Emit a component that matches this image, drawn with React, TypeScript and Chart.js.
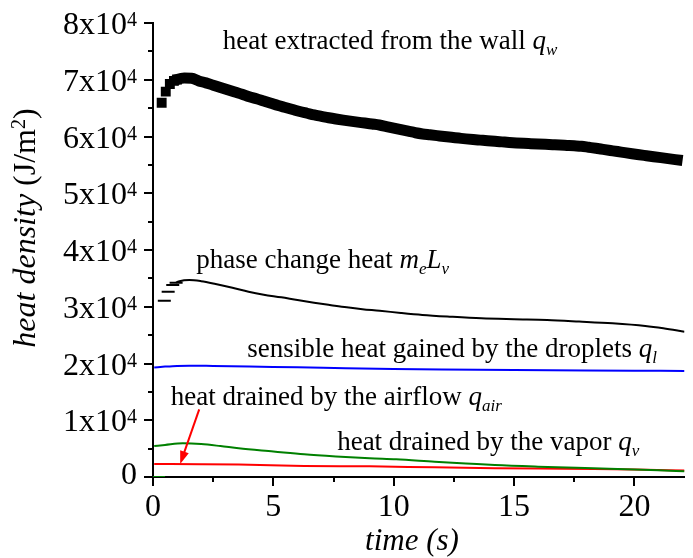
import React, { useEffect, useRef } from 'react';
import { Chart, registerables } from 'chart.js';

Chart.register(...registerables);

const FONT = '"Liberation Serif", "Times New Roman", Times, serif';

// ---- axis ticks ----
const xMajorTicks = [0, 5, 10, 15, 20];
const xMajorLabels = ['0', '5', '10', '15', '20'];
const xMinorTicks = [2.5, 7.5, 12.5, 17.5];
const yMajorTicks = [0, 10000, 20000, 30000, 40000, 50000, 60000, 70000, 80000];
const yMajorMantissa = ['0', '1', '2', '3', '4', '5', '6', '7', '8'];
const yMinorTicks = [5000, 15000, 25000, 35000, 45000, 55000, 65000, 75000];
const X_MAX = 22.08;
const Y_MAX = 80000;

// ---- heat extracted from the wall q_w (squares) ----
const qwTime = [
  0.36, 0.53, 0.7, 0.87, 1.0, 1.3, 1.6, 1.9, 2.2, 2.5, 2.8, 3.1, 3.4, 3.7, 4.0, 4.3, 4.6, 4.9,
  5.2, 5.5, 5.8, 6.1, 6.4, 6.7, 7.0, 7.3, 7.6, 7.9, 8.2, 8.5, 8.8, 9.1, 9.4, 9.7, 10.0, 10.3,
  10.6, 10.9, 11.2, 11.5, 11.8, 12.1, 12.4, 12.7, 13.0, 13.3, 13.6, 13.9, 14.2, 14.5, 14.8,
  15.1, 15.4, 15.7, 16.0, 16.3, 16.6, 16.9, 17.2, 17.5, 17.8, 18.1, 18.4, 18.7, 19.0, 19.3,
  19.6, 19.9, 20.2, 20.5, 20.8, 21.1, 21.4, 21.7, 22.0,
];
const qwValue = [
  65960, 67900, 69250, 69800, 70050, 70300, 70250, 69800, 69450, 69050, 68650, 68250, 67850,
  67450, 67000, 66650, 66250, 65850, 65450, 65100, 64750, 64400, 64100, 63800, 63550, 63300,
  63080, 62880, 62700, 62530, 62370, 62200, 62030, 61760, 61480, 61200, 60930, 60660, 60450,
  60300, 60150, 60000, 59860, 59720, 59580, 59460, 59360, 59260, 59150, 59050, 58950, 58870,
  58800, 58740, 58680, 58620, 58560, 58500, 58430, 58360, 58280, 58100, 57920, 57730, 57540,
  57350, 57150, 56960, 56780, 56610, 56440, 56270, 56100, 55930, 55760,
];

// ---- phase change heat m_e L_v ----
const meLvTime = [
  0.47, 0.63, 0.82, 0.96, 1.1, 1.51, 2.0, 2.6, 3.3, 3.97, 4.6, 5.33, 6.0, 6.69, 7.4, 8.05, 8.7,
  9.42, 10.3, 11.19, 12.4, 13.64, 15.0, 16.37, 17.7, 19.09, 20.45, 21.2, 22.08,
];
const meLvValue = [
  31070, 32650, 33830, 34240, 34500, 34710, 34500, 34010, 33350, 32650, 32130, 31660, 31170,
  30710, 30280, 29900, 29580, 29300, 28900, 28550, 28230, 27960, 27800, 27670, 27400, 27080,
  26610, 26200, 25600,
];

// ---- sensible heat gained by the droplets q_l ----
const qlTime = [0.05, 0.5, 1.0, 1.5, 2.5, 4.0, 6.0, 8.0, 10.0, 12.0, 15.0, 18.0, 20.0, 22.08];
const qlValue = [19300, 19450, 19580, 19620, 19560, 19450, 19330, 19180, 19050, 18950, 18850, 18780, 18740, 18700];

// ---- heat drained by the vapor q_v ----
const qvTime = [0, 0.5, null, 0.05, 0.5, 1.24, 2.0, 2.8, 3.56, 5.0, 6.28, 7.6, 9.0, 10.1, 11.7, 13.0, 14.2, 16.0, 18.3, 20.0, 21.0, 22.08];
const qvValue = [0, 0, null, 5460, 5650, 5930, 5800, 5450, 5060, 4500, 4000, 3620, 3290, 3110, 2700, 2400, 2110, 1820, 1530, 1320, 1180, 1000];

// ---- heat drained by the airflow q_air ----
const qairTime = [0.05, 2.0, 3.56, 6.28, 9.0, 11.7, 14.2, 16.0, 18.3, 20.0, 22.08];
const qairValue = [2290, 2260, 2200, 1960, 1880, 1700, 1560, 1480, 1400, 1300, 1150];

// ---- annotations (data coordinates) ----
type Seg = { t: string; i?: boolean; sub?: boolean };
const annotationX = [2.9, 1.8, 3.92, 0.74, 7.65];
const annotationY = [75420, 36830, 21150, 12690, 4760];
const annotationSegs: Seg[][] = [
  [{ t: 'heat extracted from the wall ' }, { t: 'q', i: true }, { t: 'w', i: true, sub: true }],
  [{ t: 'phase change heat ' }, { t: 'm', i: true }, { t: 'e', i: true, sub: true }, { t: 'L', i: true }, { t: 'v', i: true, sub: true }],
  [{ t: 'sensible heat gained by the droplets ' }, { t: 'q', i: true }, { t: 'l', i: true, sub: true }],
  [{ t: 'heat drained by the airflow ' }, { t: 'q', i: true }, { t: 'air', i: true, sub: true }],
  [{ t: 'heat drained by the vapor ' }, { t: 'q', i: true }, { t: 'v', i: true, sub: true }],
];
const arrowFrom = [1.92, 11930];
const arrowTo = [1.13, 2290];

const zip = (xs: (number | null)[], ys: (number | null)[]) =>
  xs.map((x, k) => ({ x: x as number, y: ys[k] as number }));

function drawRich(ctx: CanvasRenderingContext2D, x: number, y: number, segs: Seg[], size: number, subSize: number, subDy: number, align: 'left' | 'center') {
  const widths: number[] = [];
  let total = 0;
  segs.forEach((s) => {
    ctx.font = `${s.i ? 'italic ' : ''}${s.sub ? subSize : size}px ${FONT}`;
    const w = ctx.measureText(s.t).width;
    widths.push(w);
    total += w;
  });
  let cx = align === 'left' ? x : x - total / 2;
  segs.forEach((s, k) => {
    ctx.font = `${s.i ? 'italic ' : ''}${s.sub ? subSize : size}px ${FONT}`;
    ctx.fillText(s.t, cx, y + (s.sub ? subDy : 0));
    cx += widths[k];
  });
}

const decorPlugin = {
  id: 'decor',
  afterDraw(chart: any) {
    const ctx: CanvasRenderingContext2D = chart.ctx;
    const xs = chart.scales.x;
    const ys = chart.scales.y;
    const area = chart.chartArea;
    ctx.save();
    ctx.strokeStyle = '#000';
    ctx.fillStyle = '#000';
    ctx.lineWidth = 2;
    ctx.textAlign = 'left';
    ctx.textBaseline = 'alphabetic';

    // x ticks
    xMajorTicks.forEach((v) => {
      const px = Math.round(xs.getPixelForValue(v));
      ctx.beginPath();
      ctx.moveTo(px, area.bottom);
      ctx.lineTo(px, area.bottom + 9);
      ctx.stroke();
    });
    xMinorTicks.forEach((v) => {
      const px = Math.round(xs.getPixelForValue(v));
      ctx.beginPath();
      ctx.moveTo(px, area.bottom);
      ctx.lineTo(px, area.bottom + 5);
      ctx.stroke();
    });
    // y ticks
    yMajorTicks.forEach((v) => {
      const py = Math.round(ys.getPixelForValue(v));
      ctx.beginPath();
      ctx.moveTo(area.left - 9, py);
      ctx.lineTo(area.left, py);
      ctx.stroke();
    });
    yMinorTicks.forEach((v) => {
      const py = Math.round(ys.getPixelForValue(v));
      ctx.beginPath();
      ctx.moveTo(area.left - 5, py);
      ctx.lineTo(area.left, py);
      ctx.stroke();
    });

    // x tick labels
    ctx.font = `32px ${FONT}`;
    ctx.textAlign = 'center';
    xMajorTicks.forEach((v, k) => {
      ctx.fillText(xMajorLabels[k], xs.getPixelForValue(v), area.bottom + 39);
    });

    // y tick labels with superscript exponent
    ctx.textAlign = 'left';
    const rightEdge = area.left - 16;
    yMajorTicks.forEach((v, k) => {
      const py = ys.getPixelForValue(v);
      if (v === 0) {
        ctx.font = `32px ${FONT}`;
        const w = ctx.measureText('0').width;
        ctx.fillText('0', rightEdge - w, py + 7);
        return;
      }
      const main = `${yMajorMantissa[k]}x10`;
      ctx.font = `32px ${FONT}`;
      const wm = ctx.measureText(main).width;
      ctx.font = `20px ${FONT}`;
      const ws = ctx.measureText('4').width;
      const start = rightEdge - wm - ws;
      ctx.font = `32px ${FONT}`;
      ctx.fillText(main, start, py + 11);
      ctx.font = `20px ${FONT}`;
      ctx.fillText('4', start + wm, py + 3);
    });

    // x title
    drawRich(ctx, 412, 550, [{ t: 'time (s)', i: true }], 31, 19, 0, 'center');

    // y title (rotated)
    ctx.save();
    ctx.translate(35, 228);
    ctx.rotate(-Math.PI / 2);
    {
      const parts: { t: string; i?: boolean; sup?: boolean }[] = [
        { t: 'heat density ', i: true },
        { t: '(J/m' },
        { t: '2', sup: true },
        { t: ')' },
      ];
      let total = 0;
      const ws = parts.map((p) => {
        ctx.font = `${p.i ? 'italic ' : ''}${p.sup ? 20 : 32}px ${FONT}`;
        const w = ctx.measureText(p.t).width;
        total += w;
        return w;
      });
      let cx = -total / 2;
      parts.forEach((p, k) => {
        ctx.font = `${p.i ? 'italic ' : ''}${p.sup ? 20 : 32}px ${FONT}`;
        ctx.fillText(p.t, cx, p.sup ? -10 : 0);
        cx += ws[k];
      });
    }
    ctx.restore();

    // annotations
    annotationSegs.forEach((segs, k) => {
      const px = xs.getPixelForValue(annotationX[k]);
      const py = ys.getPixelForValue(annotationY[k]);
      drawRich(ctx, px, py, segs, 27, 17, 6, 'left');
    });

    // red arrow
    const ax0 = xs.getPixelForValue(arrowFrom[0]);
    const ay0 = ys.getPixelForValue(arrowFrom[1]);
    const ax1 = xs.getPixelForValue(arrowTo[0]);
    const ay1 = ys.getPixelForValue(arrowTo[1]);
    const ang = Math.atan2(ay1 - ay0, ax1 - ax0);
    const headLen = 13;
    const headW = 4.5;
    ctx.strokeStyle = '#ff0000';
    ctx.fillStyle = '#ff0000';
    ctx.lineWidth = 2;
    ctx.beginPath();
    ctx.moveTo(ax0, ay0);
    ctx.lineTo(ax1 - Math.cos(ang) * headLen * 0.8, ay1 - Math.sin(ang) * headLen * 0.8);
    ctx.stroke();
    ctx.beginPath();
    ctx.moveTo(ax1, ay1);
    ctx.lineTo(ax1 - Math.cos(ang) * headLen - Math.sin(ang) * headW, ay1 - Math.sin(ang) * headLen + Math.cos(ang) * headW);
    ctx.lineTo(ax1 - Math.cos(ang) * headLen + Math.sin(ang) * headW, ay1 - Math.sin(ang) * headLen - Math.cos(ang) * headW);
    ctx.closePath();
    ctx.fill();

    ctx.restore();
  },
};

export default function App() {
  const ref = useRef<HTMLCanvasElement>(null);
  useEffect(() => {
    if (!ref.current) return;
    const chart = new Chart(ref.current, {
      type: 'scatter',
      data: {
        datasets: [
          {
            label: 'q_w',
            data: zip(qwTime, qwValue),
            pointStyle: 'rect',
            pointRadius: (c: any) => (c.dataIndex < 5 ? 7 : 0),
            pointBorderWidth: 0,
            pointBackgroundColor: '#000',
            backgroundColor: '#000',
            borderColor: '#000',
            borderWidth: 11,
            borderJoinStyle: 'round',
            showLine: true,
            cubicInterpolationMode: 'monotone',
            segment: {
              borderColor: (c: any) => (c.p0DataIndex < 3 ? 'rgba(0,0,0,0)' : '#000'),
            },
          } as any,
          {
            label: 'meLv',
            data: zip(meLvTime, meLvValue),
            showLine: true,
            borderColor: '#000',
            borderWidth: 2,
            cubicInterpolationMode: 'monotone',
            pointStyle: 'line',
            pointRadius: (c: any) => (c.dataIndex < 4 ? 6.5 : 0),
            pointBorderWidth: 2,
            pointBorderColor: '#000',
            segment: {
              borderColor: (c: any) => (c.p0DataIndex < 3 ? 'rgba(0,0,0,0)' : '#000'),
            },
          } as any,
          {
            label: 'ql',
            data: zip(qlTime, qlValue),
            showLine: true,
            borderColor: '#0000ff',
            borderWidth: 2,
            cubicInterpolationMode: 'monotone',
            pointRadius: 0,
          } as any,
          {
            label: 'qv',
            data: zip(qvTime, qvValue),
            showLine: true,
            spanGaps: false,
            borderColor: '#008000',
            borderWidth: 2,
            cubicInterpolationMode: 'monotone',
            pointRadius: 0,
          } as any,
          {
            label: 'qair',
            data: zip(qairTime, qairValue),
            showLine: true,
            borderColor: '#ff0000',
            borderWidth: 2,
            cubicInterpolationMode: 'monotone',
            pointRadius: 0,
          } as any,
        ],
      },
      options: {
        animation: false,
        responsive: false,
        devicePixelRatio: 1,
        events: [],
        layout: { padding: { top: 23, right: 0, left: 0, bottom: 0 } },
        plugins: { legend: { display: false }, tooltip: { enabled: false } },
        scales: {
          x: {
            type: 'linear',
            min: 0,
            max: X_MAX,
            grid: { display: false },
            ticks: { display: false },
            border: { display: true, color: '#000', width: 2 },
            afterFit: (s: any) => {
              s.height = 81;
            },
          },
          y: {
            type: 'linear',
            min: 0,
            max: Y_MAX,
            grid: { display: false },
            ticks: { display: false },
            border: { display: true, color: '#000', width: 2 },
            afterFit: (s: any) => {
              s.width = 153;
            },
          },
        },
      } as any,
      plugins: [decorPlugin],
    });
    return () => chart.destroy();
  }, []);
  return (
    <div style={{ position: 'absolute', left: 0, top: 0, width: 693, height: 558, background: '#fff' }}>
      <canvas ref={ref} width={693} height={558} style={{ display: 'block', width: 693, height: 558 }} />
    </div>
  );
}
